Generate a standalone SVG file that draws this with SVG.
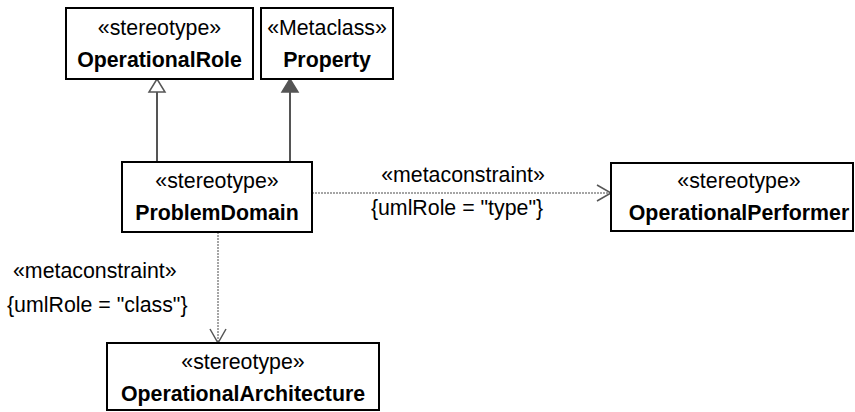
<svg xmlns="http://www.w3.org/2000/svg" width="855" height="412" viewBox="0 0 855 412">
<style>
.box{fill:#fff;stroke:#000;stroke-width:2}
.t{font-family:"Liberation Sans",Arial,sans-serif;font-size:21.33px;fill:#000;text-anchor:middle}
.b{font-weight:bold}
.l{font-family:"Liberation Sans",Arial,sans-serif;font-size:21.33px;fill:#000}
.solid{stroke:#555;stroke-width:2;fill:none}
.dash{stroke:#888;stroke-width:1.5;stroke-dasharray:2,1;fill:none}
.head{stroke:#555;stroke-width:1.5;fill:none}
</style>
<rect width="855" height="412" fill="#fff"/>
<g id="connectors">
<line class="solid" x1="157" y1="162" x2="157" y2="92"/>
<polygon points="157,79 149,92 165,92" fill="#fff" stroke="#555" stroke-width="1.5"/>
<line class="solid" x1="290" y1="162" x2="290" y2="92"/>
<polygon points="290,79 282,92 298,92" fill="#555" stroke="#555" stroke-width="1.5"/>
<line class="dash" x1="312" y1="193" x2="610" y2="193"/>
<polyline class="head" points="597,185 611,193 597,201"/>
<text class="t" x="463" y="182">«metaconstraint»</text>
<text class="t" x="457" y="215">{umlRole = "type"}</text>
<line class="dash" x1="218" y1="232" x2="218" y2="342"/>
<polyline class="head" points="210,329 218,343 226,329"/>
<text class="l" x="13" y="278">«metaconstraint»</text>
<text class="l" x="7" y="312">{umlRole = "class"}</text>
</g>
<g id="OperationalRole">
<rect class="box" x="66" y="8" width="187" height="71"/>
<text class="t" x="159.5" y="35">«stereotype»</text>
<text class="t b" x="159.5" y="67">OperationalRole</text>
</g>
<g id="Property">
<rect class="box" x="261" y="8" width="132" height="71"/>
<text class="t" x="327" y="35">«Metaclass»</text>
<text class="t b" x="327" y="67">Property</text>
</g>
<g id="ProblemDomain">
<rect class="box" x="122" y="162" width="190" height="70"/>
<text class="t" x="217" y="188">«stereotype»</text>
<text class="t b" x="217" y="220">ProblemDomain</text>
</g>
<g id="OperationalPerformer">
<rect class="box" x="611" y="163" width="242" height="68"/>
<text class="t" x="739" y="188">«stereotype»</text>
<text class="t b" x="739" y="220">OperationalPerformer</text>
</g>
<g id="OperationalArchitecture">
<rect class="box" x="107" y="343" width="272" height="67"/>
<text class="t" x="243" y="369">«stereotype»</text>
<text class="t b" x="243" y="401">OperationalArchitecture</text>
</g>
</svg>
